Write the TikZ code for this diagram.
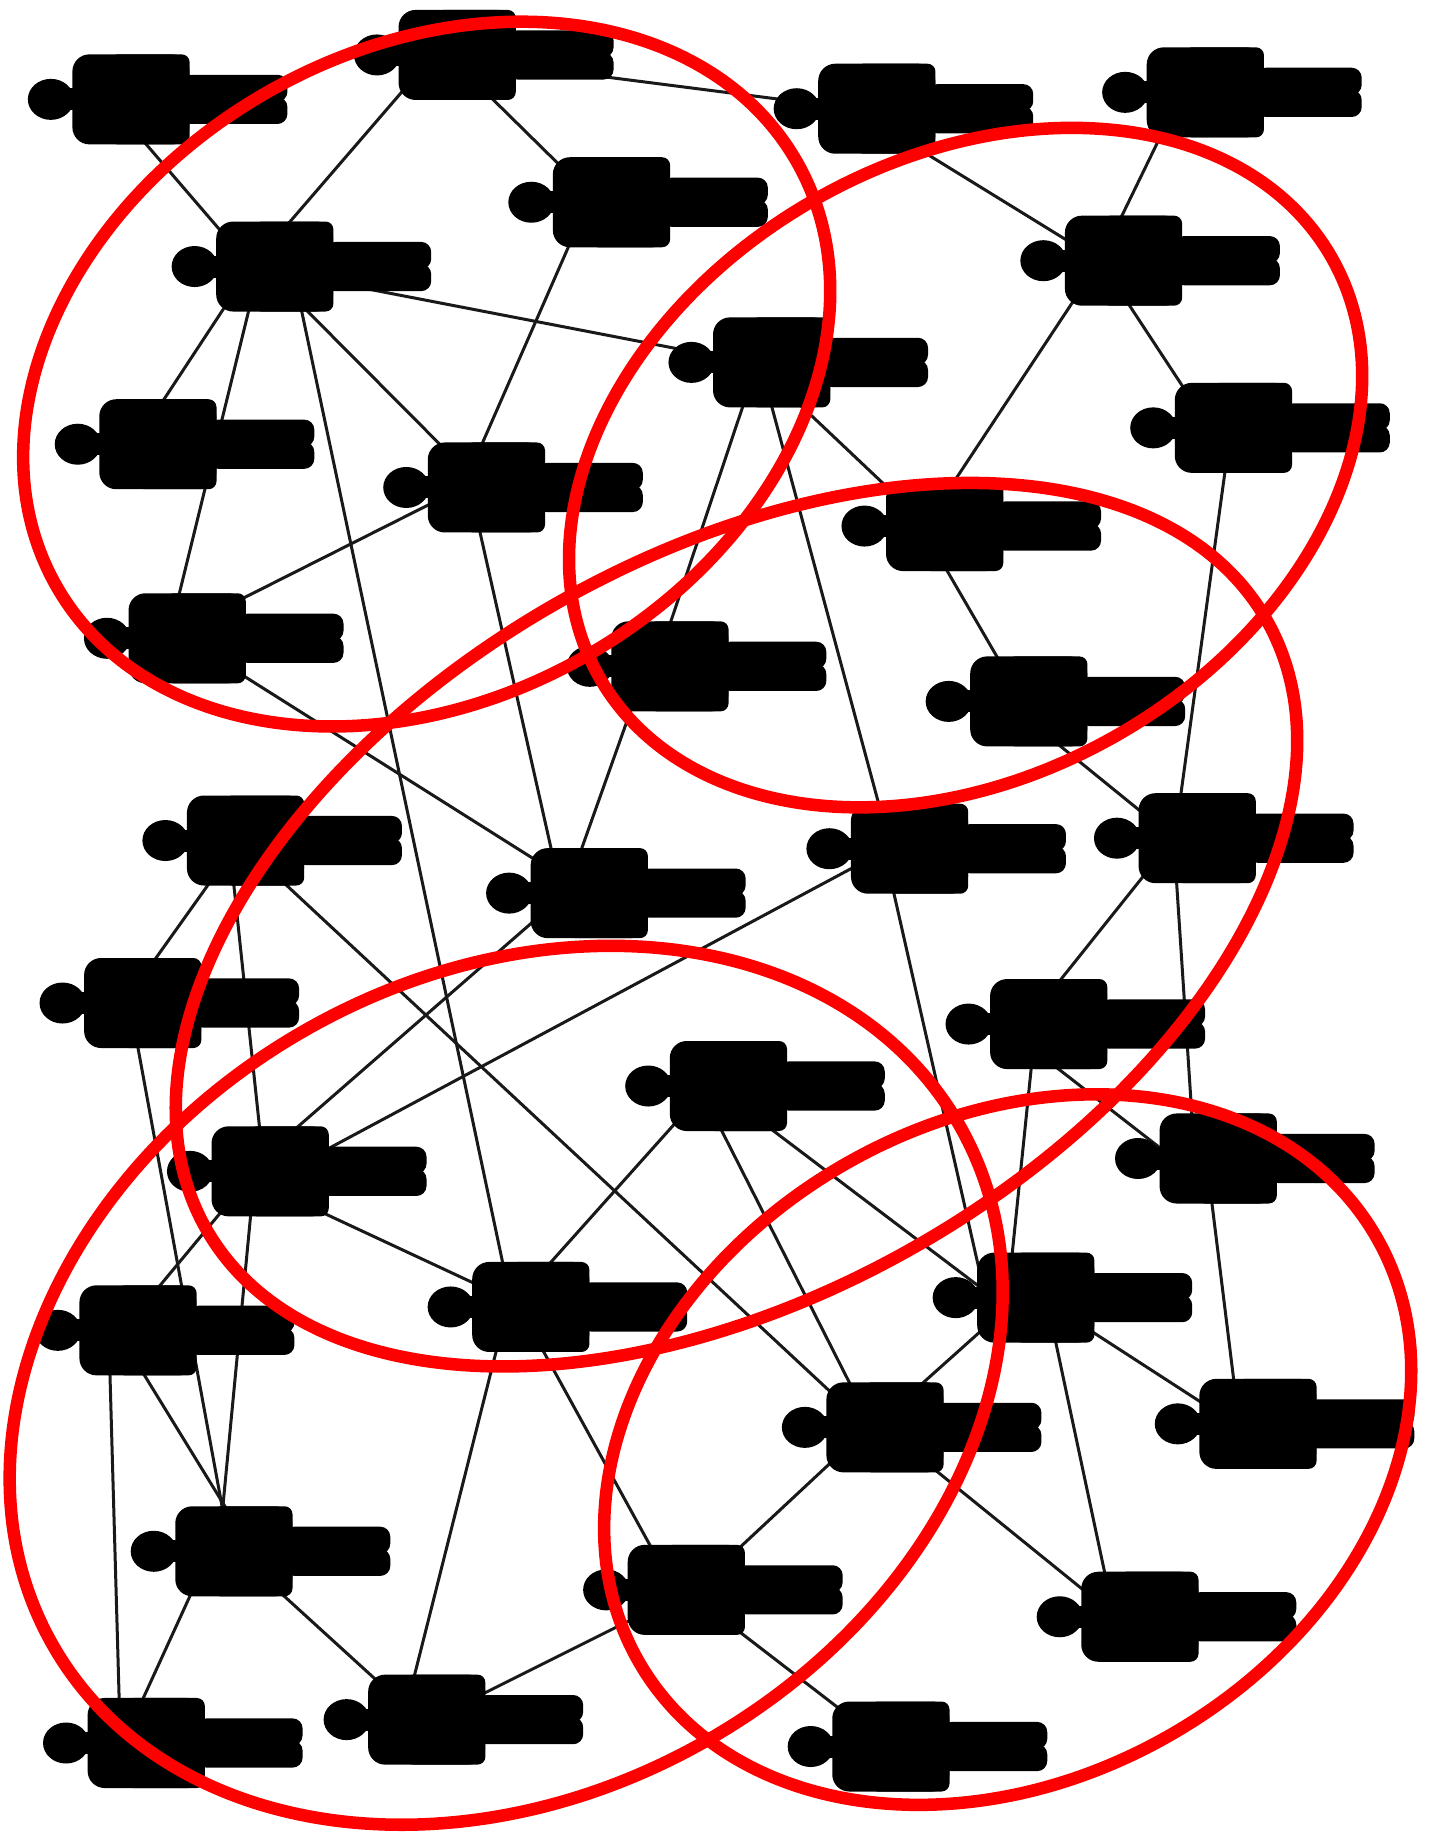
\documentclass[tikz,border=0pt]{standalone}
\usetikzlibrary{shapes.geometric}
\pgfdeclarelayer{background}
\pgfsetlayers{background,main}
\tikzset{
  torso/.style={rectangle, rounded corners=17pt, fill=black, inner sep=0pt, minimum width=117pt, minimum height=90pt},
  chest/.style={rectangle, rounded corners=8pt, fill=black, inner sep=0pt, minimum width=80pt, minimum height=90pt},
  neck/.style={rectangle, fill=black, inner sep=0pt, minimum width=10pt, minimum height=22pt},
  head/.style={ellipse, fill=black, inner sep=0pt, minimum width=46pt, minimum height=41pt},
  leg/.style={rectangle, rounded corners=10pt, fill=black, inner sep=0pt, minimum width=106pt, minimum height=27pt},
  link/.style={draw=black!90, line width=3pt},
  ring/.style={draw=red, line width=12.5pt}
}
\begin{document}
\begin{tikzpicture}[x=1.1686pt, y=-1.1686pt]
\useasboundingbox (0,0) rectangle (1228,1568);

% Люди
\foreach \name/\x/\y in {p1/92/85, p2/371/47, p3/730/93, p4/1011/79, p5/503/173, p6/215/228, p7/941/223,
  p8/640/310, p9/1035/366, p10/115/380, p11/396/417, p12/788/450, p13/140/546, p14/553/570, p15/860/600,
  p16/190/719, p17/1004/717, p18/758/726, p19/484/764, p20/102/858, p21/877/876, p22/603/929, p23/1022/991,
  p24/211/1002, p25/866/1110, p26/434/1118, p27/98/1138, p28/1056/1218, p29/737/1221, p30/180/1327,
  p31/567/1360, p32/955/1383, p33/105/1491, p34/345/1471, p35/742/1494} {
  \coordinate (\name) at (\x,\y);
  \node[torso] (\name-body) at (\x+20,\y) {};
  \node[chest] (\name-chest) at (\x+36,\y) {};
  \node[neck] (\name-neck) at (\x-32,\y) {};
  \node[head] (\name-head) at (\x-48.5,\y) {};
  \node[leg] (\name-upper) at (\x+108.5,\y-9.5) {};
  \node[leg] (\name-lower) at (\x+108.5,\y+9.5) {};
}

% Связи
\begin{pgfonlayer}{background}
\foreach \a/\b in {p1/p6, p2/p6, p2/p3, p3/p7, p4/p7, p5/p11, p6/p10, p6/p8, p7/p9, p11/p13, p14/p19, p15/p17,
  p17/p21, p17/p23, p19/p24, p26/p34, p30/p33} {
  \draw[link] (\a) -- (\b);
}
\foreach \a/\ax/\ay/\b/\bx/\by in {p2/12/0/p5/8/0, p6/7/0/p13/4/0, p6/10/0/p11/17/0, p6/35/0/p26/4/0, p7/0/0/p12/3/0,
  p8/6/0/p12/6/0, p8/8/0/p14/8/0, p8/10/0/p18/4/0, p18/-2/0/p25/-23/0, p9/18/0/p17/1/0, p11/6/0/p19/-4/0,
  p12/0/0/p15/15/0, p13/0/-11/p19/0/-12, p16/15/0/p20/4/0, p16/6/0/p24/15/0, p16/14/0/p29/6/0, p21/-21/0/p23/-18/0,
  p21/9/0/p25/-4/0, p18/0/1/p24/0/18, p20/9/0/p30/17/0, p24/7/0/p27/7/0, p24/7/0/p30/7/0, p24/0/5/p26/0/-7,
  p22/3/0/p26/3/0, p22/-5/0/p29/9/0, p22/0/-6/p25/0/12, p23/10/0/p28/4/0, p25/0/-15/p28/0/0, p25/5/0/p29/10/0,
  p25/29/0/p32/-2/0, p26/10/0/p31/10/0, p27/2/0/p30/36/0, p27/-5/0/p33/-2/0, p30/21/0/p34/14/0, p29/6/0/p31/27/0,
  p29/18/0/p32/0/0, p31/0/12/p34/0/12, p31/19/0/p35/18/0} {
  \draw[link] ([shift={(\ax,\ay)}]\a) -- ([shift={(\bx,\by)}]\b);
}
\end{pgfonlayer}

% Группы
\draw[ring] (365,320) ellipse [x radius=365, y radius=277, rotate=30];
\draw[ring] (826,400) ellipse [x radius=361, y radius=263, rotate=30];
\draw[ring] (630,791) ellipse [x radius=523, y radius=315, rotate=30];
\draw[ring] (433,1185) ellipse [x radius=447, y radius=349, rotate=30];
\draw[ring] (862,1240) ellipse [x radius=364, y radius=281, rotate=30];
\end{tikzpicture}
\end{document}
